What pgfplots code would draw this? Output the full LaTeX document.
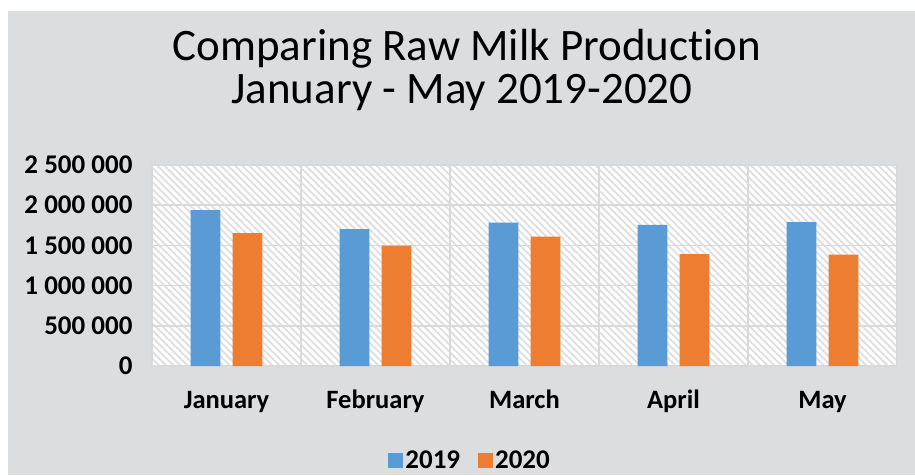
\documentclass[border=0pt]{standalone}
\usepackage{pgfplots}
\pgfplotsset{compat=1.18}
\usepackage{fontspec}
\setmainfont{Carlito}[Ligatures=NoCommon]
\usetikzlibrary{patterns.meta}

\definecolor{bggray}{RGB}{220,221,223}
\definecolor{gridgray}{RGB}{217,217,217}
\definecolor{hatchgray}{RGB}{222,222,222}
\definecolor{c2019}{RGB}{91,155,213}
\definecolor{c2020}{RGB}{237,125,49}

\begin{document}
\begin{tikzpicture}[x=1pt,y=1pt]
  \useasboundingbox (0,0) rectangle (915,475);
  \fill[white] (0,0) rectangle (915,475);
  \fill[bggray] (8,0) rectangle (915,464);

  \node[anchor=base,font=\fontsize{45}{48}\selectfont] at (467,414) {Comparing Raw Milk Production};
  \node[anchor=base,font=\fontsize{45}{48}\selectfont] at (462,371) {January - May 2019-2020};

  \begin{axis}[
    at={(152pt,109pt)}, anchor=south west,
    scale only axis,
    width=745pt, height=201pt,
    xmin=-0.5, xmax=4.5,
    ymin=0, ymax=2500000,
    xtick={0,1,2,3,4},
    xticklabels={January,February,March,April,May},
    minor xtick={-0.5,0.5,1.5,2.5,3.5,4.5},
    ytick={0,500000,1000000,1500000,2000000,2500000},
    yticklabels={0,500 000,1 000 000,1 500 000,2 000 000,2 500 000},
    scaled y ticks=false,
    ymajorgrids, xminorgrids,
    major grid style={draw=gridgray, line width=1.5pt},
    minor grid style={draw=gridgray, line width=1.5pt},
    axis line style={draw=none},
    major tick length=0pt, minor tick length=0pt,
    tick label style={font=\fontsize{27}{30}\selectfont\bfseries},
    xticklabel style={anchor=base, yshift=-42pt, font=\fontsize{26.5}{30}\selectfont\bfseries},
    yticklabel style={xshift=-16pt},
    axis background/.style={fill=white,
      postaction={pattern={Lines[angle=-45,distance=5pt,line width=1.8pt]}, pattern color=hatchgray}},
    legend style={at={(0.427,-0.468)}, anchor=center, draw=none, fill=none,
      font=\fontsize{27}{30}\selectfont\bfseries, legend columns=2,
      /tikz/every even column/.append style={column sep=16pt}},
    legend image code/.code={\fill[#1] (0pt,-7.5pt) rectangle (15pt,7.5pt);},
  ]
    \addplot[ybar, bar width=0.201, bar shift=-0.141, fill=c2019, draw=none]
      coordinates {(0,1940000) (1,1704000) (2,1782000) (3,1754000) (4,1791000)};
    \addlegendentry{2019}
    \addplot[ybar, bar width=0.201, bar shift=0.141, fill=c2020, draw=none]
      coordinates {(0,1654000) (1,1496000) (2,1608000) (3,1393000) (4,1385000)};
    \addlegendentry{2020}
  \end{axis}
\end{tikzpicture}
\end{document}
